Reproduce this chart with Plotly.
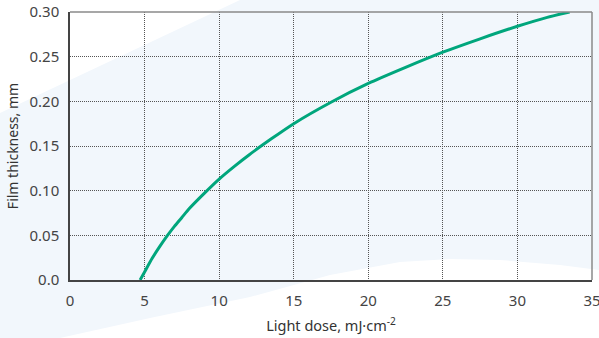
import plotly.graph_objects as go

# Data
dose = [4.7, 5.0, 5.5, 6.0, 6.5, 7.0, 7.5, 8.0, 9.0, 10.0, 11.0, 12.0, 13.5, 15.0, 17.5,
        20.0, 22.5, 25.0, 27.5, 30.0, 32.0, 33.5]
thickness = [0.0, 0.009, 0.024, 0.037, 0.049, 0.060, 0.070, 0.080, 0.097, 0.113, 0.127,
             0.140, 0.158, 0.175, 0.199, 0.220, 0.238, 0.255, 0.270, 0.284, 0.294, 0.300]

x_ticks = [0, 5, 10, 15, 20, 25, 30, 35]
y_ticks = [0.0, 0.05, 0.10, 0.15, 0.20, 0.25, 0.30]
y_ticktext = ["0.0", "0.05", "0.10", "0.15", "0.20", "0.25", "0.30"]

W, H = 599, 338
L, R, T, B = 70, 7, 12, 58
PW, PH = W - L - R, H - T - B


def px(x):
    return (x - L) / PW


def py(y):
    return (H - B - y) / PH


pts = [(0, 113), (240, 0), (599, 0), (599, 270), (560, 265), (500, 260), (450, 259),
       (400, 262), (330, 275), (250, 297), (150, 318), (60, 338), (0, 338)]
path = "M " + " L ".join(f"{px(a):.4f},{py(b):.4f}" for a, b in pts) + " Z"

fig = go.Figure()
fig.add_trace(go.Scatter(x=dose, y=thickness, mode="lines",
                         line=dict(color="#00a67c", width=3, shape="spline", smoothing=0.6),
                         showlegend=False, hoverinfo="skip", cliponaxis=False))

fig.update_layout(
    width=W, height=H,
    margin=dict(l=L, r=R, t=T, b=B),
    paper_bgcolor="white",
    plot_bgcolor="rgba(0,0,0,0)",
    font=dict(family="Noto Sans, Open Sans, sans-serif", size=15, color="#444"),
    shapes=[
        dict(type="path", path=path, xref="paper", yref="paper", layer="below",
             fillcolor="#f2f7fc", line=dict(width=0)),
        dict(type="line", xref="paper", yref="paper", x0=0, x1=1, y0=1, y1=1,
             line=dict(color="#8a8a8a", width=1.5)),
        dict(type="line", xref="paper", yref="paper", x0=1, x1=1, y0=0, y1=1,
             line=dict(color="#8a8a8a", width=1.5)),
    ],
    xaxis=dict(range=[0, 35], tickvals=x_ticks, showgrid=True, automargin=False,
               ticklabeloverflow="allow",
               gridcolor="#555", griddash="1px,1px", gridwidth=1,
               showline=True, linecolor="#444", linewidth=1.5, zeroline=False,
               ticks="outside", ticklen=6, tickcolor="rgba(0,0,0,0)",
               tickfont=dict(size=15, color="#444"),
               title=dict(text="Light dose, mJ·cm<sup>-2</sup>", font=dict(size=14.5, color="#333"), standoff=12)),
    yaxis=dict(range=[0, 0.30], tickvals=y_ticks, ticktext=y_ticktext, showgrid=True, automargin=False,
               ticklabeloverflow="allow",
               gridcolor="#555", griddash="1px,1px", gridwidth=1,
               showline=True, linecolor="#444", linewidth=1.5, zeroline=False,
               ticks="outside", ticklen=6, tickcolor="rgba(0,0,0,0)",
               tickfont=dict(size=15, color="#444"),
               title=dict(text="Film thickness, mm", font=dict(size=14, color="#333"), standoff=8)),
)

fig.write_html("out.html", config={"displayModeBar": False},
               post_script="document.body.style.margin='0';")
